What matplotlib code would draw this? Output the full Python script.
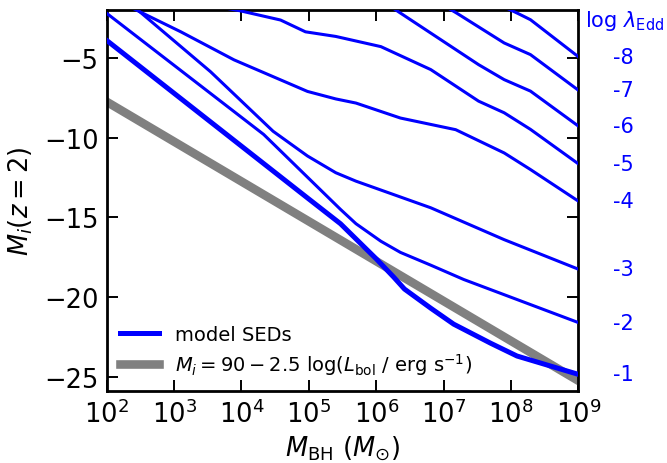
import matplotlib
matplotlib.use('Agg')
import matplotlib.pyplot as plt
import numpy as np

# model tracks, one per Eddington ratio: log10(M_BH) and M_i(z=2)
log_ledd = [-8, -7, -6, -5, -4, -3, -2, -1]

logm_8 = [7.9, 8.1, 8.29, 9.0]
mi_8 = [-1.8, -2.2, -2.6, -4.92]

logm_7 = [7.0, 7.2, 7.9, 8.29, 9.0]
mi_7 = [-1.7, -2.2, -4.06, -4.79, -7.02]

logm_6 = [6.1, 6.33, 7.52, 7.9, 8.29, 9.0]
mi_6 = [-1.45, -2.1, -5.42, -6.36, -7.08, -9.27]

logm_5 = [3.8, 3.99, 4.58, 4.95, 5.4, 6.07, 6.81, 7.52, 7.9, 8.29, 9.0]
mi_5 = [-1.9, -2.05, -2.62, -3.36, -3.65, -4.29, -5.73, -7.71, -8.44, -9.48, -11.64]

logm_4 = [2.3, 2.49, 3.1, 3.89, 4.98, 5.4, 5.7, 6.36, 7.18, 7.9, 8.29, 9.0]
mi_4 = [-1.7, -2.1, -3.36, -5.12, -7.1, -7.57, -7.83, -8.77, -9.5, -10.96, -12.0, -13.98]

logm_3 = [2.3, 2.49, 3.54, 4.47, 4.98, 5.4, 5.7, 6.81, 7.9, 9.0]
mi_3 = [-1.4, -2.1, -5.86, -9.6, -11.15, -12.2, -12.73, -14.4, -16.4, -18.25]

logm_2 = [2.0, 4.33, 5.47, 5.7, 6.07, 6.36, 6.81, 7.3, 9.0]
mi_2 = [-2.2, -9.8, -14.5, -15.4, -16.5, -17.2, -18.0, -18.9, -21.6]

logm_1 = [2.0, 5.0, 5.47, 6.0, 6.26, 6.42, 6.81, 7.15, 7.7, 8.09, 9.0]
mi_1 = [-3.9, -13.85, -15.4, -17.6, -18.75, -19.5, -20.7, -21.7, -22.9, -23.7, -24.85]

tracks_logm = [logm_8, logm_7, logm_6, logm_5, logm_4, logm_3, logm_2, logm_1]
tracks_mi = [mi_8, mi_7, mi_6, mi_5, mi_4, mi_3, mi_2, mi_1]

# bolometric relation M_i = 90 - 2.5 log(L_bol)
bol_logm = [2.0, 9.0]
bol_mi = [-7.75, -25.25]

plt.rcParams['font.family'] = 'DejaVu Sans'
plt.rcParams['mathtext.fontset'] = 'dejavusans'

fig = plt.figure(figsize=(6.67, 4.64), dpi=100)
ax = fig.add_axes([0.16, 0.155, 0.707, 0.821])

for i in range(len(tracks_logm)):
    x = 10 ** np.array(tracks_logm[i])
    if log_ledd[i] == -1:
        ax.plot(x, tracks_mi[i], color='blue', lw=3.6, label='model SEDs', zorder=3)
    else:
        ax.plot(x, tracks_mi[i], color='blue', lw=2.2, zorder=3)
    # label each track at the right-hand edge
    ax.annotate(str(log_ledd[i]), xy=(1e9, tracks_mi[i][-1]), xytext=(25, 0),
                textcoords='offset points', color='blue', fontsize=15,
                ha='left', va='center', annotation_clip=False)

ax.plot(10 ** np.array(bol_logm), bol_mi, color='gray', lw=6.2, zorder=2,
        label=r'$M_i = 90 - 2.5$ log($L_{\rm bol}$ / erg s$^{-1}$)')

ax.text(1.015, 0.975, r'log $\lambda_{\rm Edd}$', transform=ax.transAxes,
        color='blue', fontsize=15, ha='left', va='center')

ax.set_xscale('log')
ax.set_xlim(1e2, 1e9)
ax.set_ylim(-25.9, -2)
ax.set_xticks([1e2, 1e3, 1e4, 1e5, 1e6, 1e7, 1e8, 1e9])
ax.set_yticks([-5, -10, -15, -20, -25])

ax.tick_params(which='both', direction='in', top=True, right=True, width=1.4)
ax.tick_params(which='major', length=8, labelsize=18.5, pad=6)
ax.tick_params(which='minor', length=4)
for s in ax.spines.values():
    s.set_linewidth(2)

ax.set_xlabel(r'$M_{\rm BH}$ ($M_{\odot}$)', fontsize=18.5, labelpad=4)
ax.set_ylabel(r'$M_i(z=2)$', fontsize=18.5, labelpad=6)

ax.legend(loc='lower left', frameon=False, fontsize=14, handlelength=2.0,
          borderaxespad=0.3, bbox_to_anchor=(0.0, 0.0), labelspacing=0.4,
          handletextpad=0.8)

plt.savefig('out.png', dpi=100)
